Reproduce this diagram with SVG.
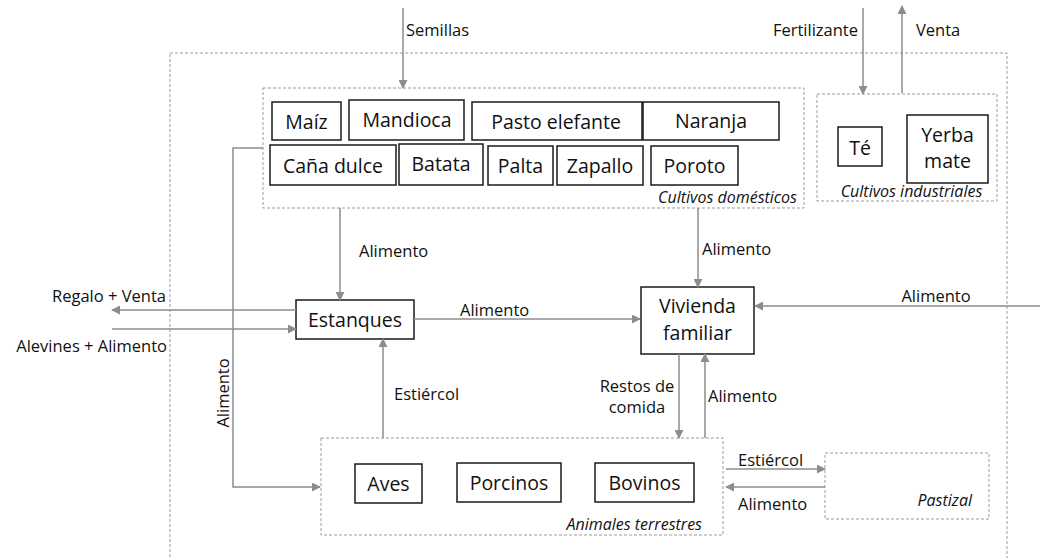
<svg xmlns="http://www.w3.org/2000/svg" width="1040" height="558" viewBox="0 0 1040 558">
<style>
text{font-family:"Open Sans","Liberation Sans",sans-serif;fill:#111}
.lbl{font-size:16.5px}
.box{font-size:19.5px;text-anchor:middle}
.it{font-size:16px;font-style:italic}
.node rect.b{fill:#fff;stroke:#1a1a1a;stroke-width:1.5}
.grp{fill:none;stroke:#999;stroke-width:1;stroke-dasharray:3 2}
.c{fill:none;stroke:#8c8c8c;stroke-width:1.5}
</style>
<defs>
<marker id="ah" viewBox="0 0 10 10" refX="9" refY="5" markerWidth="9" markerHeight="9" markerUnits="userSpaceOnUse" orient="auto">
<path d="M0,0 L10,5 L0,10 z" fill="#8c8c8c"/>
</marker>
</defs>
<rect width="1040" height="558" fill="#fff"/>

<!-- outer system boundary -->
<rect class="grp" x="170" y="53" width="837" height="520"/>

<g id="cultivos-domesticos" class="node">
<rect class="grp" x="263" y="88" width="541" height="120"/>
<text class="it" x="797" y="203" text-anchor="end">Cultivos domésticos</text>
</g>
<g id="maiz" class="node"><rect class="b" x="272" y="102" width="69" height="38"/><text class="box" x="306.5" y="129">Maíz</text></g>
<g id="mandioca" class="node"><rect class="b" x="349" y="100" width="115" height="40"/><text class="box" x="407" y="127">Mandioca</text></g>
<g id="pasto-elefante" class="node"><rect class="b" x="472" y="102" width="170" height="38"/><text class="box" x="556" y="129">Pasto elefante</text></g>
<g id="naranja" class="node"><rect class="b" x="643" y="102" width="136" height="38"/><text class="box" x="711" y="128">Naranja</text></g>
<g id="cana-dulce" class="node"><rect class="b" x="270" y="145" width="126" height="40"/><text class="box" x="333" y="173">Caña dulce</text></g>
<g id="batata" class="node"><rect class="b" x="399" y="144" width="84" height="41"/><text class="box" x="441" y="171">Batata</text></g>
<g id="palta" class="node"><rect class="b" x="488" y="146" width="65" height="39"/><text class="box" x="520.5" y="173">Palta</text></g>
<g id="zapallo" class="node"><rect class="b" x="557" y="146" width="86" height="39"/><text class="box" x="600" y="173">Zapallo</text></g>
<g id="poroto" class="node"><rect class="b" x="651" y="146" width="87" height="39"/><text class="box" x="694.5" y="173">Poroto</text></g>

<g id="cultivos-industriales" class="node">
<rect class="grp" x="817" y="94" width="180" height="107"/>
<text class="it" x="911.5" y="197" text-anchor="middle">Cultivos industriales</text>
</g>
<g id="te" class="node"><rect class="b" x="838" y="127" width="44" height="39"/><text class="box" x="860" y="155">Té</text></g>
<g id="yerba-mate" class="node"><rect class="b" x="907" y="115" width="81" height="68"/><text class="box" x="947.5" y="142">Yerba</text><text class="box" x="947.5" y="168">mate</text></g>

<g id="estanques" class="node"><rect class="b" x="296" y="300" width="118" height="39"/><text class="box" x="355" y="327">Estanques</text></g>
<g id="vivienda" class="node"><rect class="b" x="641" y="287" width="113" height="67"/><text class="box" x="697.5" y="313">Vivienda</text><text class="box" x="697.5" y="340">familiar</text></g>

<g id="animales-terrestres" class="node">
<rect class="grp" x="321" y="438" width="402" height="97"/>
<text class="it" x="702" y="530" text-anchor="end">Animales terrestres</text>
</g>
<g id="aves" class="node"><rect class="b" x="355" y="464" width="67" height="39"/><text class="box" x="388.5" y="491">Aves</text></g>
<g id="porcinos" class="node"><rect class="b" x="457" y="463" width="104" height="39"/><text class="box" x="509" y="490">Porcinos</text></g>
<g id="bovinos" class="node"><rect class="b" x="595" y="463" width="99" height="39"/><text class="box" x="644.5" y="490">Bovinos</text></g>

<g id="pastizal" class="node">
<rect class="grp" x="825" y="453" width="164" height="66"/>
<text class="it" x="972" y="506" text-anchor="end">Pastizal</text>
</g>

<g id="connectors">
<line class="c" x1="403" y1="8" x2="403" y2="88" marker-end="url(#ah)"/>
<line class="c" x1="863" y1="8" x2="863" y2="94" marker-end="url(#ah)"/>
<line class="c" x1="902" y1="93" x2="902" y2="6" marker-end="url(#ah)"/>
<line class="c" x1="340" y1="208" x2="340" y2="300" marker-end="url(#ah)"/>
<line class="c" x1="698" y1="208" x2="698" y2="287" marker-end="url(#ah)"/>
<line class="c" x1="296" y1="310" x2="112" y2="310" marker-end="url(#ah)"/>
<line class="c" x1="112" y1="329" x2="296" y2="329" marker-end="url(#ah)"/>
<polyline class="c" points="263,148 233,148 233,487 320,487" marker-end="url(#ah)"/>
<line class="c" x1="383" y1="438" x2="383" y2="339" marker-end="url(#ah)"/>
<line class="c" x1="414" y1="319" x2="640" y2="319" marker-end="url(#ah)"/>
<line class="c" x1="1040" y1="306" x2="755" y2="306" marker-end="url(#ah)"/>
<line class="c" x1="679" y1="354" x2="679" y2="438" marker-end="url(#ah)"/>
<line class="c" x1="705" y1="438" x2="705" y2="354" marker-end="url(#ah)"/>
<line class="c" x1="726" y1="469" x2="825" y2="469" marker-end="url(#ah)"/>
<line class="c" x1="825" y1="487" x2="726" y2="487" marker-end="url(#ah)"/>
</g>

<g id="labels">
<text class="lbl" x="406" y="36">Semillas</text>
<text class="lbl" x="858" y="36" text-anchor="end">Fertilizante</text>
<text class="lbl" x="916" y="36">Venta</text>
<text class="lbl" x="359" y="257">Alimento</text>
<text class="lbl" x="702" y="255">Alimento</text>
<text class="lbl" x="166" y="302" text-anchor="end">Regalo + Venta</text>
<text class="lbl" x="167" y="352" text-anchor="end">Alevines + Alimento</text>
<text class="lbl" x="460" y="316">Alimento</text>
<text class="lbl" x="936" y="302" text-anchor="middle">Alimento</text>
<text class="lbl" transform="translate(229,393) rotate(-90)" text-anchor="middle">Alimento</text>
<text class="lbl" x="394" y="400">Estiércol</text>
<text class="lbl" x="637" y="392" text-anchor="middle">Restos de</text>
<text class="lbl" x="637" y="413" text-anchor="middle">comida</text>
<text class="lbl" x="708" y="402">Alimento</text>
<text class="lbl" x="738" y="466">Estiércol</text>
<text class="lbl" x="738" y="510">Alimento</text>
</g>
</svg>
